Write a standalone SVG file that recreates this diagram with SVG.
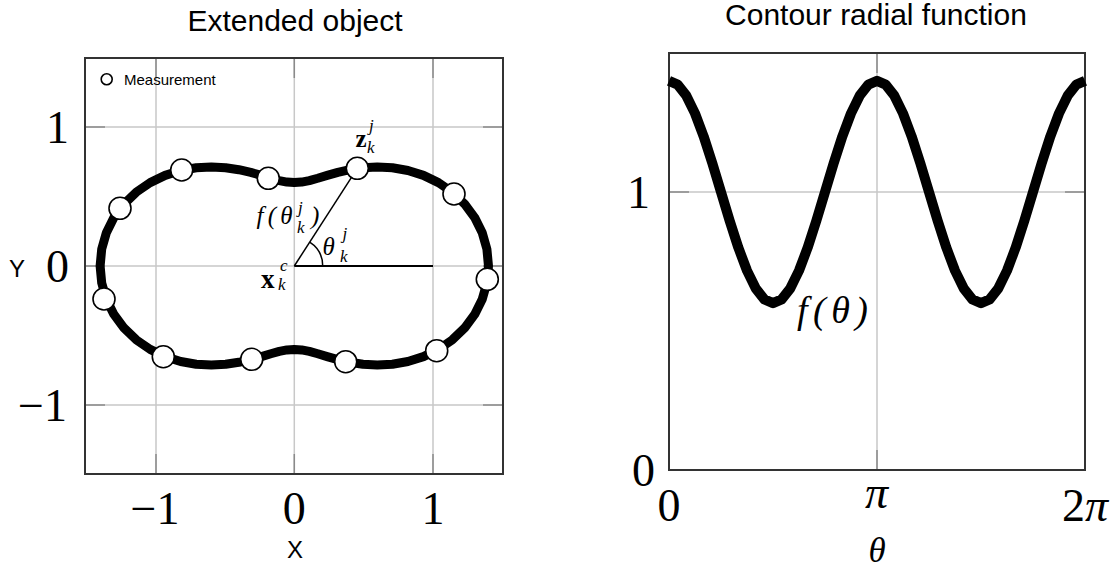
<svg xmlns="http://www.w3.org/2000/svg" width="1117" height="569" viewBox="0 0 1117 569">
<style>
.title{font-family:"Liberation Sans",Arial,sans-serif;font-size:30px;fill:#000}
.axlab{font-family:"Liberation Sans",Arial,sans-serif;font-size:24px;fill:#000}
.leg{font-family:"Liberation Sans",Arial,sans-serif;font-size:15px;fill:#000}
.tick{font-family:"Liberation Serif","Times New Roman",serif;font-size:46px;fill:#000}
.m{font-family:"Liberation Serif","Times New Roman",serif;font-style:italic;fill:#000}
.b{font-family:"Liberation Serif","Times New Roman",serif;font-weight:bold;fill:#000}
.grid{stroke:#c8c8c8;stroke-width:1.5;fill:none}
.tk{stroke:#8a8a8a;stroke-width:1.5;fill:none}
.frame{stroke:#333;stroke-width:2;fill:none}
.curve{fill:none;stroke:#000;stroke-linejoin:round}
.meas{fill:#fff;stroke:#000;stroke-width:1.6}
.ann{stroke:#000;fill:none}
</style>
<rect width="1117" height="569" fill="#fff"/>

<g id="left-plot">
  <text class="title" x="295" y="31" text-anchor="middle">Extended object</text>
  <g id="left-grid">
    <path class="grid" d="M156,58V474M294.3,58V474M433,58V474M85,127H503M85,266H503M85,405H503"/>
    <path class="tk" d="M156,58v20M294.3,58v20M433,58v20M156,454v20M294.3,454v20M433,454v20M85,127h20M85,266h20M85,405h20M483,127h20M483,266h20M483,405h20"/>
    <rect class="frame" x="85" y="58" width="418" height="416"/>
  </g>
  <g id="left-ticks">
    <text class="tick" x="155" y="524" text-anchor="middle">−1</text>
    <text class="tick" x="294.3" y="524" text-anchor="middle">0</text>
    <text class="tick" x="433" y="524" text-anchor="middle">1</text>
    <text class="tick" x="69" y="142.5" text-anchor="end">1</text>
    <text class="tick" x="69" y="281.5" text-anchor="end">0</text>
    <text class="tick" x="67" y="420.5" text-anchor="end">−1</text>
    <text class="axlab" x="295" y="558" text-anchor="middle">X</text>
    <text class="axlab" x="9" y="277">Y</text>
  </g>
  <g id="legend">
    <circle class="meas" cx="106.7" cy="79.3" r="5.5"/>
    <text class="leg" x="124" y="85">Measurement</text>
  </g>
  <g id="object-contour">
    <polygon class="curve" stroke-width="9" vector-effect="non-scaling-stroke" transform="translate(294.3,266) scale(138.7,-139)" points="1.4,0 1.3886,0.1215 1.355,0.2389 1.3005,0.3485 1.2276,0.4468 1.1393,0.5313 1.0392,0.6 0.9312,0.6521 0.8193,0.6874 0.7071,0.7071 0.5981,0.7128 0.4951,0.7071 0.4,0.6928 0.314,0.6733 0.2372,0.6518 0.1692,0.6313 0.1084,0.6146 0.0528,0.6038 0,0.6 -0.0528,0.6038 -0.1084,0.6146 -0.1692,0.6313 -0.2372,0.6518 -0.314,0.6733 -0.4,0.6928 -0.4951,0.7071 -0.5981,0.7128 -0.7071,0.7071 -0.8193,0.6874 -0.9312,0.6521 -1.0392,0.6 -1.1393,0.5313 -1.2276,0.4468 -1.3005,0.3485 -1.355,0.2389 -1.3886,0.1215 -1.4,0 -1.3886,-0.1215 -1.355,-0.2389 -1.3005,-0.3485 -1.2276,-0.4468 -1.1393,-0.5313 -1.0392,-0.6 -0.9312,-0.6521 -0.8193,-0.6874 -0.7071,-0.7071 -0.5981,-0.7128 -0.4951,-0.7071 -0.4,-0.6928 -0.314,-0.6733 -0.2372,-0.6518 -0.1692,-0.6313 -0.1084,-0.6146 -0.0528,-0.6038 0,-0.6 0.0528,-0.6038 0.1084,-0.6146 0.1692,-0.6313 0.2372,-0.6518 0.314,-0.6733 0.4,-0.6928 0.4951,-0.7071 0.5981,-0.7128 0.7071,-0.7071 0.8193,-0.6874 0.9312,-0.6521 1.0392,-0.6 1.1393,-0.5313 1.2276,-0.4468 1.3005,-0.3485 1.355,-0.2389 1.3886,-0.1215"/>
  </g>
  <g id="connectors">
    <line class="ann" stroke-width="2" x1="294.3" y1="266" x2="433" y2="266"/>
    <line class="ann" stroke-width="1.5" x1="294.3" y1="266" x2="357.3" y2="168.3"/>
    <path class="ann" stroke-width="1.5" d="M322.7,266A28.4,28.4 0 0 0 309.7,242.1"/>
  </g>
  <g id="measurements">
    <circle id="m1" class="meas" cx="181.7" cy="170" r="11"/>
    <circle id="m2" class="meas" cx="268.3" cy="178.3" r="11"/>
    <circle id="m3" class="meas" cx="357.3" cy="168.3" r="11"/>
    <circle id="m4" class="meas" cx="454" cy="194" r="11"/>
    <circle id="m5" class="meas" cx="120" cy="208.3" r="11"/>
    <circle id="m6" class="meas" cx="487.3" cy="279.3" r="11"/>
    <circle id="m7" class="meas" cx="104" cy="299" r="11"/>
    <circle id="m8" class="meas" cx="163.3" cy="356.7" r="11"/>
    <circle id="m9" class="meas" cx="251.7" cy="359.3" r="11"/>
    <circle id="m10" class="meas" cx="345.7" cy="361.7" r="11"/>
    <circle id="m11" class="meas" cx="436.7" cy="350.7" r="11"/>
  </g>
  <g id="labels">
    <text class="b" x="355.5" y="146.7" font-size="25">z</text>
    <text class="m" x="369" y="131" font-size="17">j</text>
    <text class="m" x="367" y="153" font-size="17">k</text>
    <text class="m" x="256.5" y="223.7" font-size="25" textLength="36" lengthAdjust="spacing">f(θ</text>
    <text class="m" x="298" y="213" font-size="17">j</text>
    <text class="m" x="297" y="233" font-size="17">k</text>
    <text class="m" x="311" y="223.7" font-size="25">)</text>
    <text class="m" x="322.5" y="255" font-size="25">θ</text>
    <text class="m" x="342.5" y="239" font-size="17">j</text>
    <text class="m" x="340" y="261.5" font-size="17">k</text>
    <text class="b" x="261" y="288" font-size="27">x</text>
    <text class="m" x="280" y="271" font-size="17">c</text>
    <text class="m" x="278" y="290" font-size="17">k</text>
  </g>
</g>

<g id="right-plot">
  <text class="title" x="876" y="25" text-anchor="middle">Contour radial function</text>
  <g id="right-grid">
    <path class="grid" d="M877,53V470M669,192H1085"/>
    <path class="tk" d="M877,53v20M877,450v20M669,192h20M1065,192h20"/>
    <rect class="frame" x="669" y="53" width="416" height="417"/>
  </g>
  <g id="right-ticks">
    <text class="tick" x="650" y="207.5" text-anchor="end">1</text>
    <text class="tick" x="655" y="486" text-anchor="end">0</text>
    <text class="tick" x="669" y="521" text-anchor="middle">0</text>
    <text class="tick m" x="876.5" y="508" text-anchor="middle">π</text>
    <text class="tick" x="1085" y="521" text-anchor="middle">2<tspan font-style="italic">π</tspan></text>
    <text class="m" x="877" y="562" font-size="35" text-anchor="middle">θ</text>
  </g>
  <g id="radial-function">
    <polyline class="curve" stroke-width="10" vector-effect="non-scaling-stroke" transform="translate(669,470) scale(1.15556,-278)" points="0,1.4 7.5,1.38637 15,1.34641 22.5,1.28284 30,1.2 37.5,1.10353 45,1 52.5,0.89647 60,0.8 67.5,0.71716 75,0.65359 82.5,0.61363 90,0.6 97.5,0.61363 105,0.65359 112.5,0.71716 120,0.8 127.5,0.89647 135,1 142.5,1.10353 150,1.2 157.5,1.28284 165,1.34641 172.5,1.38637 180,1.4 187.5,1.38637 195,1.34641 202.5,1.28284 210,1.2 217.5,1.10353 225,1 232.5,0.89647 240,0.8 247.5,0.71716 255,0.65359 262.5,0.61363 270,0.6 277.5,0.61363 285,0.65359 292.5,0.71716 300,0.8 307.5,0.89647 315,1 322.5,1.10353 330,1.2 337.5,1.28284 345,1.34641 352.5,1.38637 360,1.4"/>
  </g>
  <text class="m" x="797" y="323" font-size="38" textLength="71" lengthAdjust="spacing">f(θ)</text>
</g>
</svg>
